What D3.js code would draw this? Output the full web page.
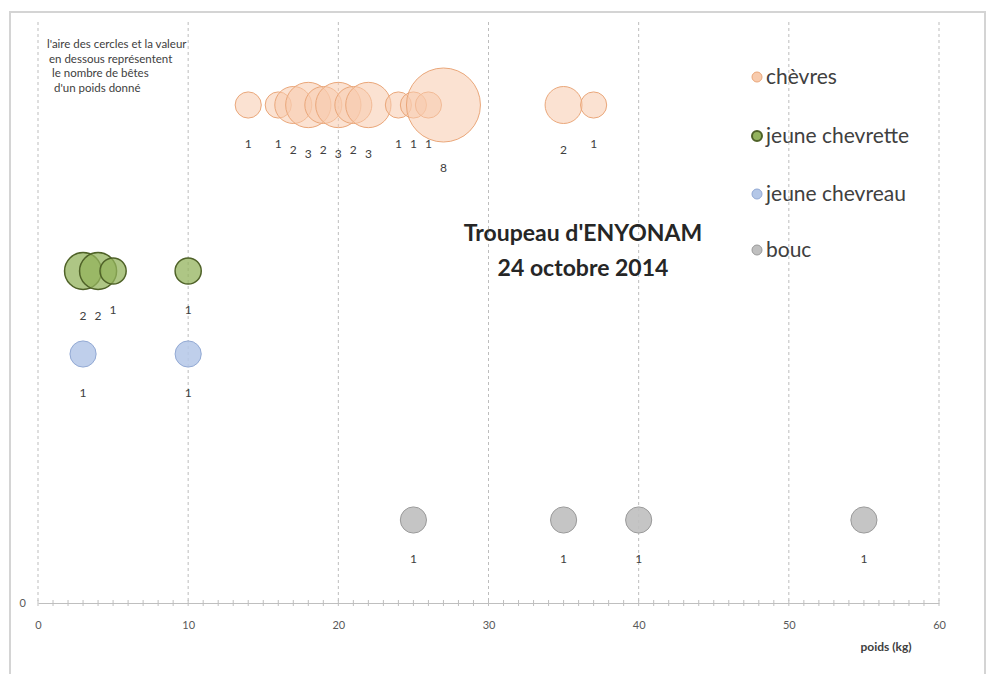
<!DOCTYPE html>
<html>
<head>
<meta charset="utf-8">
<script src="https://cdn.jsdelivr.net/npm/d3@7"></script>
<style>
    body { margin: 0; background: #fff; }
    text { font-family: Lato, "Open Sans", sans-serif; }
</style>
</head>
<body>
<div id="chart"></div>
<script>
// series names (legend) and vertical level of each row
var seriesNames = ["chèvres", "jeune chevrette", "jeune chevreau", "bouc"];
var seriesLevel = [6, 4, 3, 1];

// poids (kg) and nombre de bêtes per series
var chevresPoids = [14, 16, 17, 18, 19, 20, 21, 22, 24, 25, 26, 27, 35, 37];
var chevresNombre = [1, 1, 2, 3, 2, 3, 2, 3, 1, 1, 1, 8, 2, 1];

var chevrettePoids = [3, 4, 5, 10];
var chevretteNombre = [2, 2, 1, 1];

var chevreauPoids = [3, 10];
var chevreauNombre = [1, 1];

var boucPoids = [25, 35, 40, 55];
var boucNombre = [1, 1, 1, 1];

var xTicks = [0, 10, 20, 30, 40, 50, 60];
var titleLines = ["Troupeau d'ENYONAM", "24 octobre 2014"];
var noteLines = ["l'aire des cercles et la valeur", "en dessous  représentent", "le nombre  de bêtes", "d'un poids donné"];

function init() {
    var w = 987;
    var h = 674;

    var fills = ["#f8cbad", "#93b35c", "#b4c7e7", "#bfbfbf"];
    var strokes = ["#eaa77a", "#4f6228", "#92a9d4", "#9a9a9a"];
    var opac = [0.55, 0.75, 0.85, 0.9];

    var allPoids = [chevresPoids, chevrettePoids, chevreauPoids, boucPoids];
    var allNombre = [chevresNombre, chevretteNombre, chevreauNombre, boucNombre];

    var xScale = d3.scaleLinear().domain([0, 60]).range([38, 939]);
    var yScale = d3.scaleLinear().domain([0, 7]).range([603, 22]);
    var rScale = d3.scaleSqrt().domain([0, 8]).range([0, 37]);

    var svg = d3.select("#chart")
                .append("svg")
                .attr("width", w)
                .attr("height", h);

    // frame
    svg.append("rect")
        .attr("x", 10).attr("y", 12)
        .attr("width", 975).attr("height", 670)
        .attr("fill", "none")
        .attr("stroke", "#d4d4d4")
        .attr("stroke-width", 2);

    // vertical gridlines
    svg.selectAll(".grid")
        .data(xTicks)
        .enter()
        .append("line")
        .attr("x1", function(d) { return xScale(d); })
        .attr("x2", function(d) { return xScale(d); })
        .attr("y1", yScale(7))
        .attr("y2", yScale(0))
        .attr("stroke", "#bdbdbd")
        .attr("stroke-dasharray", "3,3");

    // x axis
    var xAxis = d3.axisBottom(xScale)
                  .tickValues(xTicks)
                  .tickSize(0)
                  .tickPadding(18);
    var gx = svg.append("g")
        .attr("transform", "translate(0," + yScale(0) + ")")
        .call(xAxis);
    gx.select(".domain").attr("stroke", "#bfbfbf");
    gx.selectAll("text").attr("fill", "#595959").style("font-size", "11px");

    // minor ticks every kg
    gx.selectAll(".minor")
        .data(d3.range(0, 61))
        .enter()
        .append("line")
        .attr("x1", function(d) { return xScale(d); })
        .attr("x2", function(d) { return xScale(d); })
        .attr("y1", -3)
        .attr("y2", 3)
        .attr("stroke", "#bfbfbf");

    // y axis: only 0
    var yAxis = d3.axisLeft(yScale).tickValues([0]).tickFormat(d3.format("d")).tickSize(0).tickPadding(12);
    var gy = svg.append("g")
        .attr("transform", "translate(" + xScale(0) + ",0)")
        .call(yAxis);
    gy.select(".domain").remove();
    gy.selectAll("text").attr("fill", "#595959").style("font-size", "11px");

    svg.append("text")
        .attr("x", 886).attr("y", 651)
        .attr("text-anchor", "middle")
        .attr("fill", "#404040")
        .style("font-size", "12px")
        .style("font-weight", "bold")
        .text("poids (kg)");

    // bubbles
    seriesNames.forEach(function(name, i) {
        var rows = allPoids[i].map(function(p, j) { return { poids: p, nombre: allNombre[i][j] }; });
        var g = svg.append("g");
        g.selectAll("circle")
            .data(rows)
            .enter()
            .append("circle")
            .attr("cx", function(d) { return xScale(d.poids); })
            .attr("cy", yScale(seriesLevel[i]))
            .attr("r", function(d) { return rScale(d.nombre); })
            .attr("fill", fills[i])
            .attr("fill-opacity", opac[i])
            .attr("stroke", strokes[i])
            .attr("stroke-width", i == 1 ? 1.5 : 1);

        g.selectAll("text")
            .data(rows)
            .enter()
            .append("text")
            .attr("x", function(d) { return xScale(d.poids); })
            .attr("y", function(d) { return yScale(seriesLevel[i]) + rScale(d.nombre) + 30; })
            .attr("text-anchor", "middle")
            .attr("fill", "#404040")
            .style("font-size", "12px")
            .text(function(d) { return d.nombre; });
    });

    // legend
    var legendY = [77, 136, 194, 250];
    var lg = svg.append("g");
    seriesNames.forEach(function(name, i) {
        lg.append("circle")
            .attr("cx", 757).attr("cy", legendY[i])
            .attr("r", 5)
            .attr("fill", fills[i])
            .attr("stroke", strokes[i])
            .attr("stroke-width", i == 1 ? 2 : 1);
        lg.append("text")
            .attr("x", 766).attr("y", legendY[i])
            .attr("dy", "0.35em")
            .attr("fill", "#404040")
            .style("font-size", "21px")
            .text(name);
    });

    // title
    svg.selectAll(".title")
        .data(titleLines)
        .enter()
        .append("text")
        .attr("x", 583)
        .attr("y", function(d, i) { return 233 + i * 35; })
        .attr("dy", "0.35em")
        .attr("text-anchor", "middle")
        .attr("fill", "#262626")
        .style("font-size", "23px")
        .style("font-weight", "bold")
        .text(function(d) { return d; });

    // note
    svg.selectAll(".note")
        .data(noteLines)
        .enter()
        .append("text")
        .attr("x", function(d, i) { return [47, 49, 52, 54][i]; })
        .attr("y", function(d, i) { return 44 + i * 14.5; })
        .attr("dy", "0.35em")
        .attr("fill", "#404040")
        .style("font-size", "11.5px")
        .text(function(d) { return d; });
}
window.onload = init;
</script>
</body>
</html>
